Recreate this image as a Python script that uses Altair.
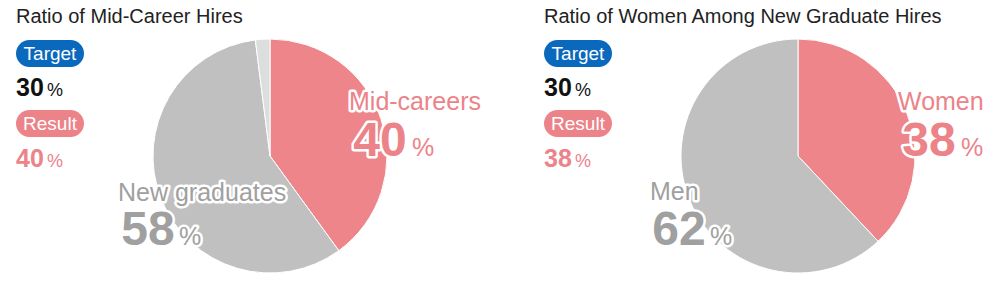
import altair as alt
import pandas as pd

# ---------------- data ----------------
TITLES = ["Ratio of Mid-Career Hires", "Ratio of Women Among New Graduate Hires"]
TARGET_LABEL = "Target"
RESULT_LABEL = "Result"
TARGETS = [30, 30]
RESULTS = [40, 38]
SLICE_NAMES = [["Mid-careers", "New graduates", "Other"], ["Women", "Men"]]
SLICE_VALUES = [[40, 58, 2], [38, 62]]
SLICE_COLORS = [["#ED858A", "#BFC0BF", "#DCDEDD"], ["#ED858A", "#BFC0BF"]]
LABEL_COLORS = [["#EC8389", "#A0A0A0"], ["#EC8389", "#A0A0A0"]]

# ---------------- layout ----------------
PANEL_W = [528, 478]
H = 283
FONT = "Liberation Sans"
BLUE = "#0A68BD"
PINK = "#EC8389"
PIE_CX, PIE_CY, PIE_R = 270, 156, 117
# per labelled slice: (label x, label baseline, number centre x, number baseline, pct x)
LABEL_POS = [
    [(349, 110, 380, 156, 412), (118, 201, 148, 245, 179)],
    [(370, 110, 401, 156, 433), (122, 200, 151, 245, 182)],
]


def txt(text, x, y, size, color, bold=False, align="left", halo=False):
    df = pd.DataFrame({"t": [text]})
    kw = dict(font=FONT, fontSize=size, align=align, baseline="alphabetic",
              fontWeight="bold" if bold else "normal")
    layers = []
    if halo:
        layers.append(alt.Chart(df).mark_text(color="white", stroke="white", strokeWidth=5,
                                              strokeJoin="round", **kw)
                      .encode(text="t:N", x=alt.value(x), y=alt.value(y)))
    layers.append(alt.Chart(df).mark_text(color=color, **kw)
                  .encode(text="t:N", x=alt.value(x), y=alt.value(y)))
    return layers


def pill(x0, x1, y0, y1, color):
    df = pd.DataFrame({"k": [0]})
    return alt.Chart(df).mark_rect(color=color, cornerRadius=(y1 - y0) / 2).encode(
        x=alt.value(x0), x2=alt.value(x1), y=alt.value(y0), y2=alt.value(y1))


def panel(i):
    layers = []
    pie_df = pd.DataFrame({
        "name": SLICE_NAMES[i],
        "value": SLICE_VALUES[i],
        "color": SLICE_COLORS[i],
        "order": list(range(len(SLICE_VALUES[i]))),
    })
    layers.append(
        alt.Chart(pie_df).mark_arc(radius=PIE_R, stroke="white", strokeWidth=1).encode(
            theta=alt.Theta("value:Q", stack=True),
            color=alt.Color("color:N", scale=None),
            order=alt.Order("order:Q"),
            x=alt.value(PIE_CX), y=alt.value(PIE_CY),
        )
    )
    # title
    layers += txt(TITLES[i], 16, 23, 20, "#222222")
    # target badge
    layers.append(pill(16, 84, 40, 67, BLUE))
    layers += txt(TARGET_LABEL, 50, 60, 19, "white", align="center")
    layers += txt(str(TARGETS[i]), 16, 96, 25, "#111111", bold=True)
    layers += txt("%", 47, 96, 18, "#111111")
    # result badge
    layers.append(pill(16, 84, 110, 137, PINK))
    layers += txt(RESULT_LABEL, 50, 130, 19, "white", align="center")
    layers += txt(str(RESULTS[i]), 16, 167, 25, PINK, bold=True)
    layers += txt("%", 47, 167, 18, PINK)
    # slice labels
    for j, (lx, ly, nx, ny, px) in enumerate(LABEL_POS[i]):
        col = LABEL_COLORS[i][j]
        layers += txt(SLICE_NAMES[i][j], lx, ly, 25, col, halo=True)
        layers += txt(str(SLICE_VALUES[i][j]), nx, ny, 48, col, bold=True, align="center", halo=True)
        layers += txt("%", px, ny, 25, col, halo=True)
    return alt.layer(*layers).properties(width=PANEL_W[i], height=H)


chart = alt.hconcat(panel(0), panel(1), spacing=0).properties(
    padding=0, background="white"
).configure_view(stroke=None)

chart.save("out.html", embed_options={"renderer": "svg", "actions": False})
